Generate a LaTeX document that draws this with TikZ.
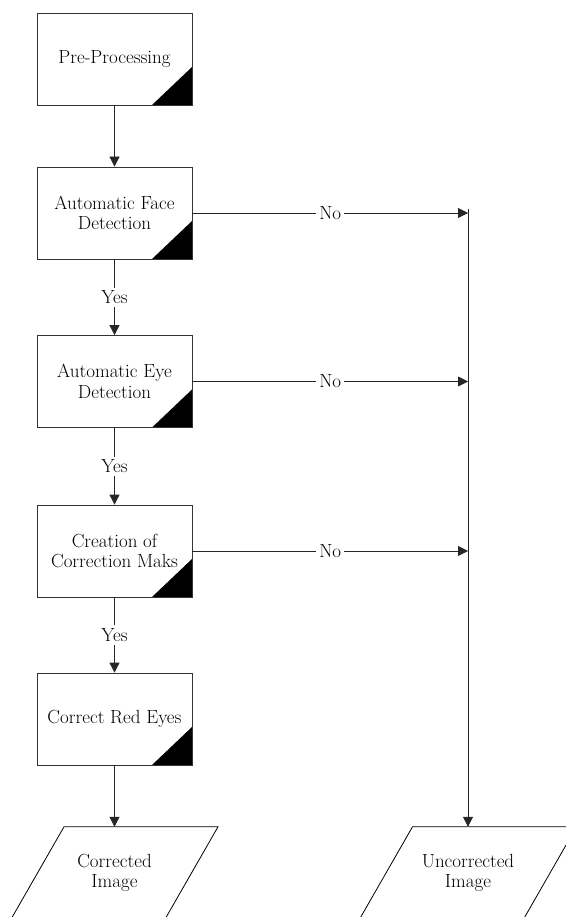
\documentclass[tikz,border=0pt]{standalone}
\usetikzlibrary{arrows.meta,calc}
\begin{document}
\begin{tikzpicture}[x=1pt,y=-1pt,
  font=\fontsize{19}{20.5}\selectfont,
  proc/.style={draw=black!80, line width=0.8pt, minimum width=155pt, minimum height=92pt,
    align=center, inner sep=0pt,
    path picture={\fill ([xshift=-40pt]path picture bounding box.south east)
      -- (path picture bounding box.south east)
      -- ([yshift=38pt]path picture bounding box.south east) -- cycle;}},
  flow/.style={draw=black!85, line width=0.8pt, -{Triangle[length=10pt,width=10pt]}},
  lbl/.style={fill=white, inner sep=3pt},
  io/.style={align=center, inner sep=0pt, minimum height=92pt},
  para/.style={draw=black, line width=0.8pt}
]
\useasboundingbox (0,0) rectangle (565,917);
\node[proc] (b1) at (114.5,59) {Pre-Processing};
\node[proc] (b2) at (114.5,213) {Automatic Face\\Detection};
\node[proc] (b3) at (114.5,381.5) {Automatic Eye\\Detection};
\node[proc] (b4) at (114.5,551) {Creation of\\Correction Maks};
\node[proc] (b5) at (114.5,719) {Correct Red Eyes};

\node[io] (o1) at (114.5,873) {Corrected\\Image};
\node[io] (o2) at (468,873) {Uncorrected\\Image};

\draw[para] ($(o1.north)+(-50.5,0)$) -- ($(o1.north)+(103.5,0)$)
  -- ($(o1.south)+(50.5,0)$) -- ($(o1.south)+(-103.5,0)$) -- cycle;
\draw[para] ($(o2.north)+(-55.5,0)$) -- ($(o2.north)+(108.5,0)$)
  -- ($(o2.south)+(55.5,0)$) -- ($(o2.south)+(-108.5,0)$) -- cycle;

\coordinate (vtop) at (468,209);

\draw[flow] (b1) -- (b2);
\draw[flow] (b2) -- node[lbl]{Yes} (b3);
\draw[flow] (b3) -- node[lbl]{Yes} (b4);
\draw[flow] (b4) -- node[lbl]{Yes} (b5);
\draw[flow] (b5) -- (o1);

\draw[flow] (b2.east) -- node[lbl]{No} (b2.east -| vtop);
\draw[flow] (b3.east) -- node[lbl]{No} (b3.east -| vtop);
\draw[flow] (b4.east) -- node[lbl]{No} (b4.east -| vtop);
\draw[flow] (vtop) -- (o2);
\end{tikzpicture}
\end{document}
